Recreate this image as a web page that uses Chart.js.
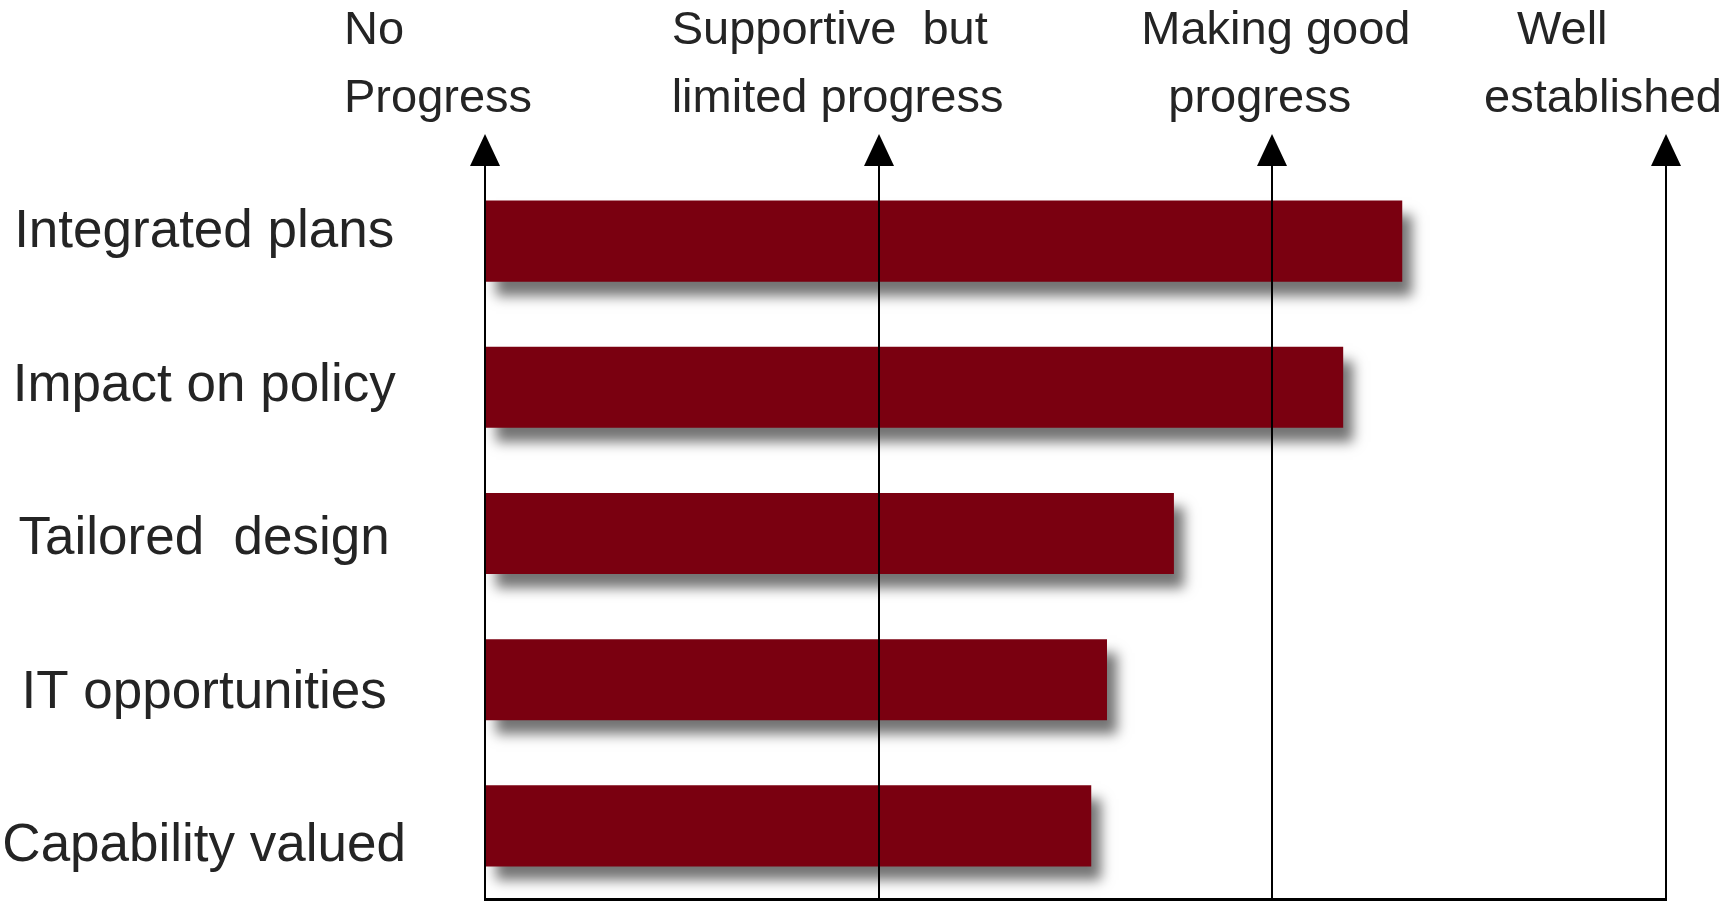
<!DOCTYPE html>
<html>
<head>
<meta charset="utf-8">
<script src="https://cdn.jsdelivr.net/npm/chart.js@4/dist/chart.umd.min.js"></script>
<style>
  html, body { margin: 0; padding: 0; background: #fff; }
  #wrap { width: 1724px; height: 902px; position: relative; }
</style>
</head>
<body>
<div id="wrap"><canvas id="chart"></canvas></div>
<script>
  const categories = ['Integrated plans', 'Impact on policy', 'Tailored  design', 'IT opportunities', 'Capability valued'];
  const scores = [2.33, 2.18, 1.75, 1.58, 1.54];
  const levelTicks = [0, 1, 2, 3];
  const levelLabels = [
    ['No', 'Progress'],
    ['Supportive  but', 'limited progress'],
    ['Making good', 'progress'],
    ['Well', 'established']
  ];

  const TEXT = '#242424';
  const FONT = '"Liberation Sans", Arial, Helvetica, sans-serif';

  // soft drop shadow under the bars
  const barShadow = {
    id: 'barShadow',
    beforeDatasetDraw(chart) {
      const ctx = chart.ctx;
      ctx.save();
      ctx.shadowColor = 'rgba(0,0,0,0.55)';
      ctx.shadowBlur = 12;
      ctx.shadowOffsetX = 10;
      ctx.shadowOffsetY = 14;
    },
    afterDatasetDraw(chart) {
      chart.ctx.restore();
    }
  };

  // arrow heads on the level lines + the level headings above them
  const levelHeads = {
    id: 'levelHeads',
    afterDraw(chart) {
      const ctx = chart.ctx;
      const x = chart.scales.x;
      const top = chart.chartArea.top;
      const dx = [[-141, -141], [-207, -207], [-131, -104], [-149, -182]];
      const baseY = [44, 112];
      ctx.save();
      ctx.fillStyle = '#000';
      levelTicks.forEach(v => {
        const px = Math.round(x.getPixelForValue(v));
        ctx.beginPath();
        ctx.moveTo(px, top - 34);
        ctx.lineTo(px - 15, top - 2);
        ctx.lineTo(px + 15, top - 2);
        ctx.closePath();
        ctx.fill();
        ctx.fillRect(px - 1, top - 4, 2, 6);
      });
      ctx.fillStyle = TEXT;
      ctx.font = '47px ' + FONT;
      ctx.textAlign = 'left';
      ctx.textBaseline = 'alphabetic';
      levelTicks.forEach((v, i) => {
        const px = x.getPixelForValue(v);
        levelLabels[i].forEach((line, j) => {
          ctx.fillText(line, px + dx[i][j], baseY[j]);
        });
      });
      ctx.restore();
    }
  };

  new Chart(document.getElementById('chart'), {
    type: 'bar',
    data: {
      labels: categories,
      datasets: [{
        data: scores,
        backgroundColor: '#7a0010',
        borderWidth: 0,
        barPercentage: 0.555,
        categoryPercentage: 1
      }]
    },
    options: {
      indexAxis: 'y',
      responsive: true,
      maintainAspectRatio: false,
      animation: false,
      layout: { padding: { top: 168, right: 58, bottom: 3, left: 0 } },
      plugins: {
        legend: { display: false },
        tooltip: { enabled: false }
      },
      scales: {
        x: {
          type: 'linear',
          position: 'bottom',
          min: 0,
          max: 3,
          afterBuildTicks: s => { s.ticks = levelTicks.map(v => ({ value: v })); },
          ticks: { display: false },
          grid: { color: '#000', lineWidth: 2, drawTicks: false, z: 1 },
          border: { color: '#000', width: 3, z: 1 }
        },
        y: {
          type: 'category',
          display: false
        },
        // category names: the original spaces them a little wider than the bars
        names: {
          type: 'linear',
          position: 'left',
          reverse: true,
          offset: false,
          min: -0.42,
          max: 4.34,
          afterBuildTicks: s => { s.ticks = categories.map((c, i) => ({ value: i })); },
          afterFit: s => { s.width = 485; s.paddingTop = 0; s.paddingBottom = 0; },
          grid: { display: false, drawTicks: false },
          border: { display: false },
          ticks: {
            color: TEXT,
            font: { family: FONT, size: 53 },
            crossAlign: 'center',
            padding: 79,
            callback: v => categories[v]
          }
        }
      }
    },
    plugins: [barShadow, levelHeads]
  });
</script>
</body>
</html>
